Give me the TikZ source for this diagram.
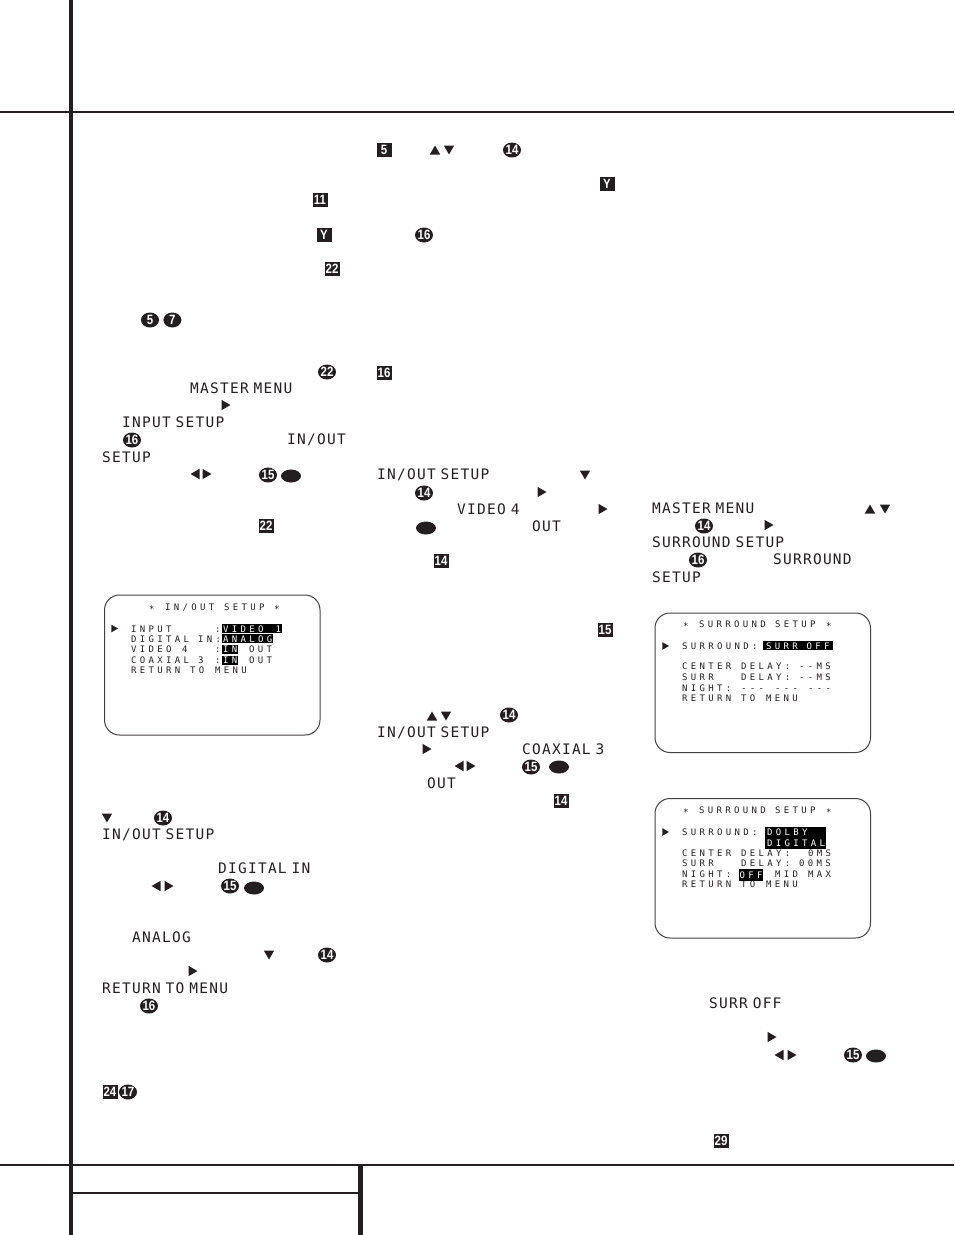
\documentclass[tikz,border=0pt]{standalone}
\usepackage{fontspec}
\usetikzlibrary{positioning,shapes.geometric}

\newfontfamily\numfont[FakeStretch=0.85]{Liberation Sans}
\newfontfamily\menufont[LetterSpace=8.5,WordSpace=0.5]{DejaVu Sans Mono}
\newfontfamily\screenfont[LetterSpace=37]{DejaVu Sans Mono}
\definecolor{ink}{HTML}{231F20}

\tikzset{
    rulethin/.style={draw=ink, line width=2pt},
    rulethick/.style={draw=ink, line width=4pt},
    sqnum/.style={fill=ink, text=white, inner sep=0pt, minimum width=15pt, minimum height=14pt, font=\numfont\bfseries\fontsize{13.5}{13.5}\selectfont},
    cnum/.style={ellipse, fill=ink, text=white, inner sep=0pt, minimum width=18pt, minimum height=15pt, font=\numfont\bfseries\fontsize{13.5}{13.5}\selectfont},
    led/.style={ellipse, fill=ink, inner sep=0pt, minimum width=20pt, minimum height=13pt},
    tri/.style={regular polygon, regular polygon sides=3, fill=ink, inner sep=0pt, minimum size=12pt},
    triup/.style={tri, yshift=-1.5pt},
    tridown/.style={tri, shape border rotate=180, yshift=1.5pt},
    trileft/.style={tri, shape border rotate=90, xshift=1.5pt},
    triright/.style={tri, shape border rotate=270, xshift=-1.5pt},
    menutxt/.style={anchor=west, inner sep=0pt, text height=10.5pt, text depth=0pt, text=ink, font=\menufont\fontsize{14.5}{14.5}\selectfont},
    screen/.style={draw=ink!85, line width=1pt, rounded corners=15pt, fill=white},
    scrtxt/.style={anchor=west, inner sep=0pt, text height=7pt, text depth=0pt, text=ink, font=\screenfont\fontsize{9}{9}\selectfont},
    scrstar/.style={scrtxt, yshift=-1.5pt},
    scrval/.style={scrtxt, fill=black, text=white, inner xsep=1pt, inner ysep=1pt},
}

\begin{document}
\begin{tikzpicture}[x=1pt,y=-1pt]
    \useasboundingbox (0,0) rectangle (954,1235);

    % page rules
    \draw[rulethick] (71,0) -- (71,1235);
    \draw[rulethin] (0,112) -- (954,112);
    \draw[rulethin] (0,1165) -- (954,1165);
    \draw[rulethin] (71,1193) -- (360,1193);
    \draw[draw=ink, line width=5pt] (360.5,1165) -- (360.5,1235);

    % first column
    \node[sqnum] (sq11) at (320,200) {11};
    \node[sqnum] (sqya) at (324,235) {Y};
    \node[sqnum] (sqvv) at (332,269) {22};
    \node[cnum] (c5) at (150,320) {5};
    \node[cnum] (c7) [right=4pt of c5] {7};
    \node[cnum] (cvv) at (327,372) {22};
    \node[menutxt] (mm1) at (190,388) {MASTER MENU};
    \node[triright] (ra) at (226,405) {};
    \node[menutxt] (is1) at (122,422) {INPUT SETUP};
    \node[cnum] (c16a) at (132,440) {16};
    \node[menutxt] (io1) at (287,439) {IN/OUT};
    \node[menutxt] (su1) at (102,457) {SETUP};
    \node[trileft] (la) at (195,474) {};
    \node[triright] (rb) at (207,474) {};
    \node[cnum] (c15a) at (268,475) {15};
    \node[led] (leda) at (291,476) {};
    \node[sqnum] (sqvw) at (266,526) {22};

    % input screen
    \draw[screen] (104.5,595) rectangle (320,735);
    \node[scrstar] (t1) at (149,607) {*};
    \node[scrtxt] (t2) at (165,607) {IN/OUT};
    \node[scrtxt] (t3) at (224,607) {SETUP};
    \node[scrstar] (t4) at (274,607) {*};
    \node[triright, minimum size=9pt] (pa) at (115,628.5) {};
    \node[scrtxt] (r1) at (131,628.5) {INPUT};
    \node[scrtxt] (r1c) at (215,628.5) {:};
    \node[scrval] (r1v) at (222,628.5) {VIDEO\hspace*{3.3pt}~1};
    \node[scrtxt] (r2a) at (131,638.5) {DIGITAL};
    \node[scrtxt] (r2b) at (198,638.5) {IN:};
    \node[scrval] (r2v) at (222,638.5) {ANALOG};
    \node[scrtxt] (r3a) at (131,649) {VIDEO};
    \node[scrtxt] (r3b) at (182,649) {4};
    \node[scrtxt] (r3c) at (215,649) {:};
    \node[scrval] (r3v) at (222,649) {IN};
    \node[scrtxt] (r3o) at (249,649) {OUT};
    \node[scrtxt] (r4a) at (131,660) {COAXIAL};
    \node[scrtxt] (r4b) at (198,660) {3};
    \node[scrtxt] (r4c) at (215,660) {:};
    \node[scrval] (r4v) at (222,660) {IN};
    \node[scrtxt] (r4o) at (249,660) {OUT};
    \node[scrtxt] (r5a) at (131,670) {RETURN};
    \node[scrtxt] (r5b) at (190,670) {TO};
    \node[scrtxt] (r5c) at (215,670) {MENU};

    \node[tridown] (da) at (107,818) {};
    \node[cnum] (c14a) at (163,818) {14};
    \node[menutxt] (io2) at (102,834) {IN/OUT SETUP};
    \node[menutxt] (di1) at (218,868) {DIGITAL IN};
    \node[trileft] (lb) at (156,886) {};
    \node[triright] (rc) at (169,886) {};
    \node[cnum] (c15b) at (230,886) {15};
    \node[led] (ledb) at (254,888) {};
    \node[menutxt] (an1) at (132,937) {ANALOG};
    \node[tridown] (db) at (269,955) {};
    \node[cnum] (c14b) at (327,955) {14};
    \node[triright] (rd) at (193,971) {};
    \node[menutxt] (rt1) at (102,988) {RETURN TO MENU};
    \node[cnum] (c16b) at (149,1006) {16};
    \node[sqnum] (sq24) at (110,1092) {24};
    \node[cnum] (c17) at (128,1092) {17};

    % second column
    \node[sqnum] (sq5) at (384,150) {5};
    \node[triup] (ua) at (435,150) {};
    \node[tridown] (dc) at (449,150) {};
    \node[cnum] (c14c) at (512,150) {14};
    \node[sqnum] (sqyb) at (607,184) {Y};
    \node[cnum] (c16c) at (424,235) {16};
    \node[sqnum] (sq16) at (384,373) {16};
    \node[menutxt] (io3) at (377,474) {IN/OUT SETUP};
    \node[tridown] (dd) at (585,475) {};
    \node[cnum] (c14d) at (424,493) {14};
    \node[triright] (re) at (542,492) {};
    \node[menutxt] (v41) at (457,509) {VIDEO 4};
    \node[triright] (rf) at (603,509) {};
    \node[led] (ledc) at (426,528) {};
    \node[menutxt] (ou1) at (532,526) {OUT};
    \node[sqnum] (sq14a) at (441,561) {14};
    \node[sqnum] (sq15) at (605,630) {15};
    \node[triup] (ub) at (432,716) {};
    \node[tridown] (de) at (446,716) {};
    \node[cnum] (c14e) at (509,715) {14};
    \node[menutxt] (io4) at (377,732) {IN/OUT SETUP};
    \node[triright] (rg) at (427,749) {};
    \node[menutxt] (co1) at (522,749) {COAXIAL 3};
    \node[trileft] (lc) at (459,766) {};
    \node[triright] (rh) at (471,766) {};
    \node[cnum] (c15c) at (531,767) {15};
    \node[led] (ledd) at (559,767) {};
    \node[menutxt] (ou2) at (427,783) {OUT};
    \node[sqnum] (sq14b) at (561,801) {14};

    % third column
    \node[menutxt] (mm2) at (652,508) {MASTER MENU};
    \node[triup] (uc) at (870,509) {};
    \node[tridown] (df) at (885,509) {};
    \node[cnum] (c14f) at (704,526) {14};
    \node[triright] (ri) at (769,525) {};
    \node[menutxt] (ss1) at (652,542) {SURROUND SETUP};
    \node[cnum] (c16d) at (698,560) {16};
    \node[menutxt] (sr1) at (773,559) {SURROUND};
    \node[menutxt] (su2) at (652,577) {SETUP};

    % surround screen, off
    \draw[screen] (655,613) rectangle (870.5,752.5);
    \node[scrstar] (a1) at (683,624) {*};
    \node[scrtxt] (a2) at (699,624) {SURROUND};
    \node[scrtxt] (a3) at (775,624) {SETUP};
    \node[scrstar] (a4) at (826,624) {*};
    \node[triright, minimum size=9pt] (pb) at (666,646) {};
    \node[scrtxt] (b1) at (682,645.5) {SURROUND:};
    \node[scrval, inner xsep=3pt] (b1v) at (763,645.5) {SURR~OFF};
    \node[scrtxt] (b2a) at (682,666) {CENTER};
    \node[scrtxt] (b2b) at (741,666) {DELAY:};
    \node[scrtxt] (b2c) at (799,666) {--MS};
    \node[scrtxt] (b3a) at (682,677) {SURR};
    \node[scrtxt] (b3b) at (741,677) {DELAY:};
    \node[scrtxt] (b3c) at (799,677) {--MS};
    \node[scrtxt] (b4a) at (682,688) {NIGHT:};
    \node[scrtxt] (b4b) at (741,688) {---};
    \node[scrtxt] (b4c) at (775,688) {---};
    \node[scrtxt] (b4d) at (808,688) {---};
    \node[scrtxt] (b5a) at (682,698) {RETURN};
    \node[scrtxt] (b5b) at (741,698) {TO};
    \node[scrtxt] (b5c) at (766,698) {MENU};

    % surround screen, dolby
    \draw[screen] (655,798.5) rectangle (870.5,938);
    \node[scrstar] (c1) at (683,810) {*};
    \node[scrtxt] (c2) at (699,810) {SURROUND};
    \node[scrtxt] (c3) at (775,810) {SETUP};
    \node[scrstar] (c4) at (826,810) {*};
    \node[triright, minimum size=9pt] (pc) at (666,832) {};
    \node[scrtxt] (d1) at (682,831.5) {SURROUND:};
    \fill[black] (765,827) rectangle (826,849);
    \node[scrtxt, text=white] (d1v) at (767,832) {DOLBY};
    \node[scrtxt, text=white] (d1w) at (767,842.5) {DIGITAL};
    \node[scrtxt] (d2a) at (682,853) {CENTER};
    \node[scrtxt] (d2b) at (741,853) {DELAY:};
    \node[scrtxt] (d2c) at (808,853) {0MS};
    \node[scrtxt] (d3a) at (682,863) {SURR};
    \node[scrtxt] (d3b) at (741,863) {DELAY:};
    \node[scrtxt] (d3c) at (799,863) {00MS};
    \node[scrtxt] (d5a) at (682,884) {RETURN};
    \node[scrtxt] (d5b) at (741,884) {TO};
    \node[scrtxt] (d5c) at (766,884) {MENU};
    \node[scrtxt] (d4a) at (682,874) {NIGHT:};
    \node[scrval, inner xsep=0.5pt, inner ysep=2.5pt] (d4v) at (739,874.5) {OFF};
    \node[scrtxt] (d4c) at (775,874) {MID};
    \node[scrtxt] (d4d) at (808,874) {MAX};

    \node[menutxt] (so1) at (709,1003) {SURR OFF};
    \node[triright] (rj) at (772,1037) {};
    \node[trileft] (ld) at (779,1055) {};
    \node[triright] (rk) at (792,1055) {};
    \node[cnum] (c15d) at (853,1055) {15};
    \node[led] (lede) at (876,1056) {};
    \node[sqnum] (sq29) at (721,1141) {29};
\end{tikzpicture}
\end{document}
